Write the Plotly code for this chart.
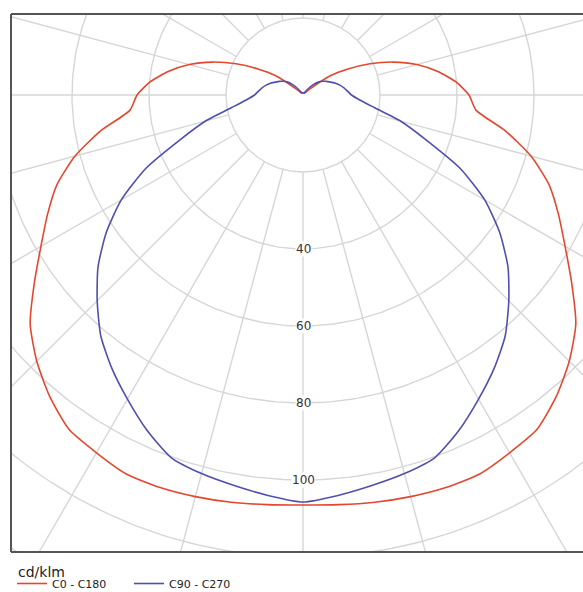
import numpy as np
import plotly.graph_objects as go

# ---------------- data (cd/klm) ----------------
gamma_deg = list(range(0, 181, 5))
c0_c180 = [106.5, 106.8, 107.4, 108.0, 108.5, 108.6, 107.3, 106.0, 102.3, 97.8,
           92.5, 85.2, 78.6, 73.2, 68.0, 61.3, 53.3, 45.1, 43.1, 39.8,
           35.4, 30.6, 25.0, 19.2, 13.5, 8.8, 3.0, 1.2, 0.8, 0.6,
           0.6, 0.6, 0.6, 0.6, 0.6, 0.6, 0.6]
c90_c270 = [105.7, 104.4, 103.0, 101.8, 100.2, 96.0, 91.2, 86.6, 81.7, 75.6,
            69.5, 62.4, 54.5, 45.0, 34.0, 26.3, 18.8, 14.8, 12.6, 11.6,
            10.8, 9.9, 9.0, 7.9, 7.1, 6.2, 5.2, 3.8, 2.2, 1.2,
            0.6, 0.6, 0.6, 0.6, 0.6, 0.6, 0.6]
series_names = ["C0 - C180", "C90 - C270"]
ring_values = [20, 40, 60, 80, 100, 120, 140]
label_values = [40, 60, 80, 100]
label_texts = ["40", "60", "80", "100"]
unit_label = "cd/klm"

# ---------------- geometry (px) ----------------
W, H = 583, 592
frame_left, frame_top, frame_bottom = 11, 14, 552
cx, cy = 303, 95          # pixel position of the luminaire centre
ppu = 3.85                # pixels per cd/klm
plot_h = frame_bottom - frame_top

x_range = [(frame_left - cx) / ppu, (W - cx) / ppu]
y_range = [(cy - frame_bottom) / ppu, (cy - frame_top) / ppu]

RED = "#e4472f"
BLUE = "#4f4fae"
GRID = "#d6d6d6"


def curve_xy(values):
    g = np.radians(np.array(gamma_deg, dtype=float))
    r = np.array(values, dtype=float)
    xl, yl = -r[::-1] * np.sin(g[::-1]), -r[::-1] * np.cos(g[::-1])
    xr, yr = r[1:] * np.sin(g[1:]), -r[1:] * np.cos(g[1:])
    return np.concatenate([xl, xr]), np.concatenate([yl, yr])


fig = go.Figure()

th = np.linspace(0, 2 * np.pi, 361)
gx, gy = [], []
for rv in ring_values:
    gx += list(rv * np.cos(th)) + [None]
    gy += list(rv * np.sin(th)) + [None]
for a in range(0, 360, 15):
    ar = np.radians(a)
    gx += [ring_values[0] * np.sin(ar), 250 * np.sin(ar), None]
    gy += [-ring_values[0] * np.cos(ar), -250 * np.cos(ar), None]
fig.add_trace(go.Scatter(x=gx, y=gy, mode="lines", line=dict(color=GRID, width=1.4),
                         hoverinfo="skip", showlegend=False))

for name, vals, col in zip(series_names, [c0_c180, c90_c270], [RED, BLUE]):
    x, y = curve_xy(vals)
    fig.add_trace(go.Scatter(x=x, y=y, mode="lines", name=name,
                             line=dict(color=col, width=1.6, shape="spline", smoothing=0.6)))

for v, t in zip(label_values, label_texts):
    fig.add_annotation(x=0, y=-v, text=t, showarrow=False, bgcolor="white",
                       borderpad=0, font=dict(family="DejaVu Sans", size=12, color="#333333"))

# unit caption above the legend
fig.add_annotation(xref="paper", yref="paper", x=0, xshift=5, y=-20 / plot_h,
                   xanchor="left", yanchor="middle", showarrow=False, text=unit_label,
                   font=dict(family="DejaVu Sans", size=14, color="#222222"))

frame = dict(type="line", xref="paper", yref="paper", line=dict(color="#555555", width=2), layer="above")
fig.add_shape(**frame, x0=0, x1=0, y0=0, y1=1)
fig.add_shape(**frame, x0=0, x1=1.01, y0=1, y1=1)
fig.add_shape(**frame, x0=0, x1=1.01, y0=0, y1=0)

fig.update_layout(
    width=W, height=H,
    margin=dict(l=frame_left, r=0, t=frame_top, b=H - frame_bottom),
    paper_bgcolor="white", plot_bgcolor="white",
    xaxis=dict(range=x_range, visible=False, fixedrange=True),
    yaxis=dict(range=y_range, visible=False, fixedrange=True),
    showlegend=True,
    legend=dict(
        orientation="h", xref="container", yref="container",
        x=12 / W, y=1 - 569 / H, xanchor="left", yanchor="top",
        font=dict(family="DejaVu Sans", size=11, color="#222222"),
        entrywidth=72, tracegroupgap=0, itemwidth=30,
        bgcolor="rgba(0,0,0,0)",
    ),
)

fig.write_html("out.html", config={"displayModeBar": False},
               post_script="document.body.style.margin='0';document.body.style.overflow='hidden';")
